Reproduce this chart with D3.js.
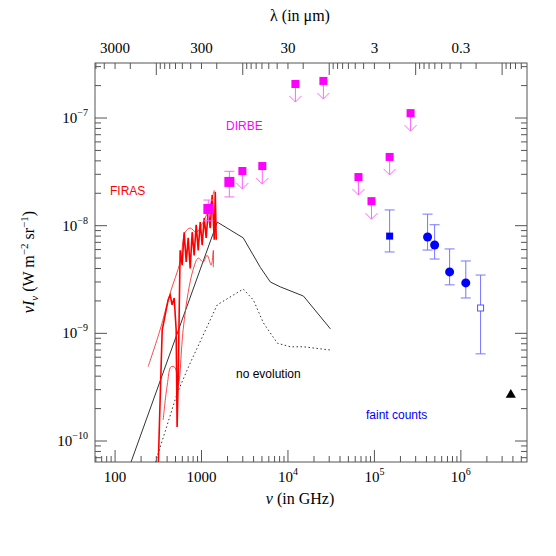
<!DOCTYPE html><html><head><meta charset="utf-8"><script src="https://cdn.jsdelivr.net/npm/d3@7"></script>
<style>body{margin:0;background:#fff}</style></head><body><svg id="c" width="556" height="556"></svg><script>
const firasNu=[315,332,351,370,390,411,434,457,483,509,522,537,566,597,630,665,701,740,780,822,868,916,966,1018,1074,1133,1196,1260,1330,1403,1442,1480];
const firasI=[5.4e-11,2.4e-10,1.08e-9,1.33e-9,1.65e-9,2.04e-9,2.27e-9,1.84e-9,2.13e-9,1.08e-9,1.35e-10,3.7e-10,5.9e-9,4.3e-9,8.7e-9,4.6e-9,7.7e-9,4.0e-9,8.7e-9,5.3e-9,1.02e-8,5.9e-9,1.08e-8,6.6e-9,1.18e-8,7.7e-9,1.4e-8,9.5e-9,1.93e-8,7.4e-9,2.06e-8,7.4e-9];
const firasUpNu=[241,332,434,566,648,740,868,1045,1260,1403];
const firasUpI=[4.9e-10,1.08e-9,2.37e-9,4.6e-9,8.7e-9,9.5e-9,8.7e-9,1.08e-8,1.56e-8,2.14e-8];
const firasLoNu=[360,401,445,495,537,613,701,800,916,1045,1160,1295,1370,1370];
const firasLoI=[1.57e-10,3.3e-10,4.9e-10,4.8e-10,3.3e-10,1.08e-9,2.4e-9,3.9e-9,5.0e-9,4.6e-9,5.3e-9,4.3e-9,5.9e-9,4.1e-9];
const modelNu=[142,1520,3040,4790,6250,8170,15100,31000];
const modelI=[5.4e-11,1.08e-8,7.7e-9,4.1e-9,3.0e-9,2.7e-9,2.22e-9,1.1e-9];
const noevNu=[275,525,740,1520,3040,3980,5200,7540,10700,15100,31000];
const noevI=[5.4e-11,2.8e-10,5.3e-10,1.84e-9,2.58e-9,2.04e-9,1.25e-9,8.1e-10,7.5e-10,7.5e-10,7.0e-10];
const dirbeNu=[1200,2100];
const dirbeI=[1.43e-8,2.55e-8];
const dirbeHi=[1.73e-8,3.2e-8];
const dirbeLo=[1.11e-8,1.85e-8];
const limNu=[2970,5050,12200,25700,65400,92500,1.5e5,2.62e5];
const limI=[3.22e-8,3.58e-8,2.07e-7,2.21e-7,2.83e-8,1.69e-8,4.35e-8,1.11e-7];
const sqNu=[1.5e5],sqI=[8.0e-9],sqHi=[1.4e-8],sqLo=[5.7e-9];
const cNu=[4.12e5,4.97e5,7.41e5,1.14e6],cI=[7.85e-9,6.62e-9,3.72e-9,2.94e-9],cHi=[1.28e-8,1.02e-8,6.08e-9,4.7e-9],cLo=[5.94e-9,4.9e-9,2.82e-9,2.13e-9];
const osNu=[1.69e6],osI=[1.72e-9],osHi=[3.48e-9],osLo=[6.45e-10];
const triNu=[3.78e6],triI=[2.68e-10];
const xTicks=[100,1000,1e4,1e5,1e6];
const xTickLabels=["100","1000","10<sup>4</sup>","10<sup>5</sup>","10<sup>6</sup>"];
const lamTicks=[3000,300,30,3,0.3];
const yTicks=[1e-7,1e-8,1e-9,1e-10];
const yExp=["−7","−8","−9","−10"];

const svg=d3.select("#c");
const L=95,R=527,T=63,B=462;
const x=d3.scaleLog().domain([58.6,10**6.765]).range([L,R]);
const xl=d3.scaleLog().domain([3e5/58.6,3e5/10**6.765]).range([L,R]);
const y=d3.scaleLog().domain([10**-10.195,10**-6.489]).range([B,T]);
const serif="Liberation Serif, Times New Roman, serif", sans="Liberation Sans, Arial, sans-serif";
svg.append("defs").append("clipPath").attr("id","cp").append("rect").attr("x",L).attr("y",T).attr("width",R-L).attr("height",B-T);
const g=svg.append("g").attr("clip-path","url(#cp)");
svg.append("rect").attr("x",L).attr("y",T).attr("width",R-L).attr("height",B-T).attr("fill","none").attr("stroke","#555");
// ticks
function minors(sc,lo,hi){const a=[];for(let e=Math.floor(Math.log10(lo))-1;e<=Math.ceil(Math.log10(hi));e++)for(let k=1;k<10;k++){const v=k*10**e;if(v>=lo&&v<=hi)a.push({v,maj:k===1});}return a;}
const tk=svg.append("g").attr("stroke","#555");
minors(x,58.6,10**6.765).forEach(t=>{const px=x(t.v),l=t.maj?12:6;tk.append("line").attr("x1",px).attr("x2",px).attr("y1",B).attr("y2",B-l);});
minors(xl,10**(5.477-6.765),3e5/58.6).forEach(t=>{const px=xl(t.v),l=t.maj?12:6;tk.append("line").attr("x1",px).attr("x2",px).attr("y1",T).attr("y2",T+l);});
minors(y,10**-10.195,10**-6.489).forEach(t=>{const py=y(t.v),l=t.maj?12:6;tk.append("line").attr("x1",L).attr("x2",L+l).attr("y1",py).attr("y2",py);tk.append("line").attr("x1",R).attr("x2",R-l).attr("y1",py).attr("y2",py);});
// tick labels
xTicks.forEach((v,i)=>{const t=svg.append("text").attr("x",x(v)).attr("y",482).attr("text-anchor","middle").attr("font-family",serif).attr("font-size",15);
 if(i<2)t.text(xTickLabels[i]);else{t.append("tspan").text("10");t.append("tspan").attr("dy",-7).attr("font-size",10).text(String(i+2));}});
lamTicks.forEach(v=>svg.append("text").attr("x",xl(v)).attr("y",53).attr("text-anchor","middle").attr("font-family",serif).attr("font-size",15).text(v));
yTicks.forEach((v,i)=>{const t=svg.append("text").attr("x",88).attr("y",y(v)+5).attr("text-anchor","end").attr("font-family",serif).attr("font-size",15);
 t.append("tspan").text("10");t.append("tspan").attr("dy",-7).attr("font-size",10).text(yExp[i]);});
// axis titles
svg.append("text").attr("x",300).attr("y",504).attr("text-anchor","middle").attr("font-family",serif).attr("font-size",16).html("<tspan font-style='italic'>ν</tspan> (in GHz)");
svg.append("text").attr("x",300).attr("y",21).attr("text-anchor","middle").attr("font-family",serif).attr("font-size",16).text("λ (in μm)");
svg.append("text").attr("transform","translate(34,262) rotate(-90)").attr("text-anchor","middle").attr("font-family",serif).attr("font-size",16)
 .html("<tspan font-style='italic'>ν</tspan><tspan font-style='italic'>I</tspan><tspan font-size='11' dy='4' font-style='italic'>ν</tspan><tspan dy='-4'> (W m</tspan><tspan font-size='11' dy='-6'>−2</tspan><tspan dy='6'> sr</tspan><tspan font-size='11' dy='-6'>−1</tspan><tspan dy='6'>)</tspan>");
// lines
const ln=(nu,I)=>d3.line()(nu.map((v,i)=>[x(v),y(I[i])]));
g.append("path").attr("d",ln(modelNu,modelI)).attr("fill","none").attr("stroke","#333").attr("stroke-width",1);
g.append("path").attr("d",ln(noevNu,noevI)).attr("fill","none").attr("stroke","#333").attr("stroke-width",1).attr("stroke-dasharray","1.5,2.5");
const cl=(nu,I)=>d3.line().curve(d3.curveCatmullRom)(nu.map((v,i)=>[x(v),y(I[i])]));
g.append("path").attr("d",cl(firasUpNu,firasUpI)).attr("fill","none").attr("stroke","#f33").attr("stroke-width",0.9);
g.append("path").attr("d",cl(firasLoNu,firasLoI)).attr("fill","none").attr("stroke","#f33").attr("stroke-width",0.9);
g.append("path").attr("d",ln(firasNu,firasI)).attr("fill","none").attr("stroke","#f00").attr("stroke-width",1.6);
// error bars
function eb(nu,lo,hi,col){nu.forEach((v,i)=>{const px=x(v);g.append("line").attr("x1",px).attr("x2",px).attr("y1",y(lo[i])).attr("y2",y(hi[i])).attr("stroke",col);
 [lo[i],hi[i]].forEach(e=>g.append("line").attr("x1",px-5).attr("x2",px+5).attr("y1",y(e)).attr("y2",y(e)).attr("stroke",col));});}
eb(dirbeNu,dirbeLo,dirbeHi,"#f6f");
eb(sqNu,sqLo,sqHi,"#77f");eb(cNu,cLo,cHi,"#77f");eb(osNu,osLo,osHi,"#77f");
dirbeNu.forEach((v,i)=>g.append("rect").attr("x",x(v)-5).attr("y",y(dirbeI[i])-5).attr("width",10).attr("height",10).attr("fill","#f0f"));
limNu.forEach((v,i)=>{const px=x(v),py=y(limI[i]);
 g.append("path").attr("d",`M${px},${py}V${py+18}M${px-6},${py+12}L${px},${py+18}L${px+6},${py+12}`).attr("fill","none").attr("stroke","#f6f");
 g.append("rect").attr("x",px-4).attr("y",py-4).attr("width",8).attr("height",8).attr("fill","#f0f");});
sqNu.forEach((v,i)=>g.append("rect").attr("x",x(v)-3.5).attr("y",y(sqI[i])-3.5).attr("width",7).attr("height",7).attr("fill","#00f"));
cNu.forEach((v,i)=>g.append("circle").attr("cx",x(v)).attr("cy",y(cI[i])).attr("r",4.5).attr("fill","#00f"));
osNu.forEach((v,i)=>g.append("rect").attr("x",x(v)-3).attr("y",y(osI[i])-3).attr("width",6).attr("height",6).attr("fill","#fff").attr("stroke","#55f"));
triNu.forEach((v,i)=>g.append("path").attr("d",d3.symbol(d3.symbolTriangle,45)()).attr("transform",`translate(${x(v)},${y(triI[i])})`).attr("fill","#000"));
// labels
const lab=(t,px,py,c)=>svg.append("text").attr("x",px).attr("y",py).attr("font-family",sans).attr("font-size",12).attr("fill",c).text(t);
lab("FIRAS",110,195,"#f00");lab("DIRBE",226,130,"#f0f");lab("no evolution",236,378,"#000");lab("faint counts",366,419,"#00f");
</script></body></html>
